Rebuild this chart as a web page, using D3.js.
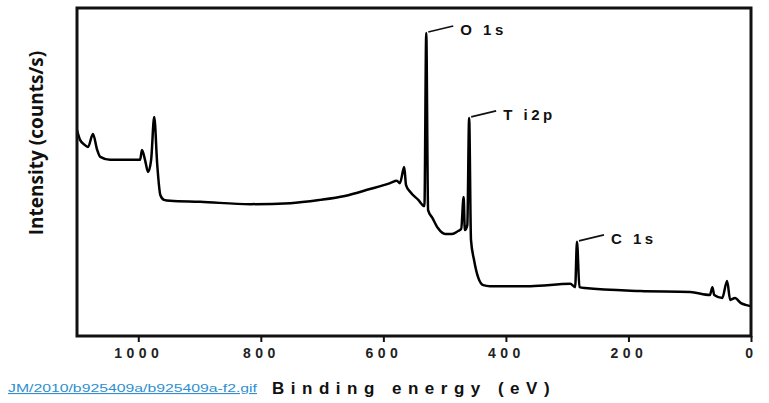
<!DOCTYPE html>
<html>
<head>
<meta charset="utf-8">
<script src="https://cdn.jsdelivr.net/npm/d3@7"></script>
<style>
  html, body { margin: 0; padding: 0; background: #ffffff; }
  svg { display: block; }
</style>
</head>
<body>
<script>
// Binding energy (eV) and intensity (arbitrary units, 0-100)
const bindingEnergy = [1100,1095,1087,1082,1074,1067,1062,1046,1021,997,994,989,984,979,974,969,964,958,948,899,817,752,703,663,622,589,578,573,566,563,556,543,533,530,527,520,511,499,488,478,473,469,467,463,460,457,452,445,437,426,360,295,287,284,280,271,181,99,67,63,60,47,39,34,26,17,9,1];
const intensity = [62.8,59.8,58.2,57.6,61.6,56.7,54.6,53.7,53.7,53.7,56.7,53.7,50.0,53.7,66.8,52.1,43.0,41.5,41.2,40.9,40.2,40.5,41.5,42.7,44.8,46.6,47.3,46.6,51.5,46.0,43.9,41.5,39.6,92.4,38.4,36.0,32.9,31.1,31.1,32.0,32.6,42.4,32.3,33.8,66.5,29.3,23.2,17.7,15.5,15.2,15.2,15.9,14.9,28.7,14.9,14.6,13.7,13.4,12.5,14.9,12.5,11.6,16.8,11.0,11.6,10.1,9.5,9.1];

const peakNames = ["O 1s", "T i2p", "C 1s"];
const peakEnergy = [530, 460, 284];
const peakIntensity = [92.4, 66.5, 28.7];

const xTicks = [1000, 800, 600, 400, 200, 0];
const xLabel = "Binding energy (eV)";
const yLabel = "Intensity (counts/s)";
const linkText = "JM/2010/b925409a/b925409a-f2.gif";

const W = 769, H = 403;
const m = { left: 77, right: 18, top: 8, bottom: 67 };

const svg = d3.select("body").append("svg").attr("width", W).attr("height", H);

const x = d3.scaleLinear().domain([1100, 0]).range([m.left, W - m.right]);
const y = d3.scaleLinear().domain([0, 100]).range([H - m.bottom, m.top]);

// spectrum
const pts = bindingEnergy.map((b, i) => [b, intensity[i]]);
svg.append("path")
  .datum(pts)
  .attr("fill", "none")
  .attr("stroke", "#000")
  .attr("stroke-width", 2.5)
  .attr("stroke-linejoin", "round")
  .attr("d", d3.line().curve(d3.curveMonotoneX).x(d => x(d[0])).y(d => y(d[1])));

// frame
svg.append("rect")
  .attr("x", m.left).attr("y", m.top)
  .attr("width", W - m.right - m.left).attr("height", H - m.bottom - m.top)
  .attr("fill", "none").attr("stroke", "#111").attr("stroke-width", 3);

// x axis
const xAxis = d3.axisBottom(x).tickValues(xTicks).tickSize(6).tickPadding(6).tickFormat(d3.format("d"));
const gx = svg.append("g").attr("transform", `translate(0,${H - m.bottom})`).call(xAxis);
gx.select(".domain").remove();
gx.selectAll(".tick line").attr("stroke", "#111").attr("stroke-width", 2);
gx.selectAll(".tick text")
  .attr("font-family", "Liberation Sans, Arial, sans-serif")
  .attr("font-weight", "bold")
  .attr("font-size", 14)
  .attr("fill", "#222")
  .attr("letter-spacing", "4.5px");

// x label
svg.append("text")
  .attr("x", 272).attr("y", 394)
  .attr("font-family", "Liberation Sans, Arial, sans-serif")
  .attr("font-weight", "bold").attr("font-size", 17)
  .attr("fill", "#111")
  .attr("letter-spacing", "6.5px")
  .text(xLabel);

// y label
svg.append("text")
  .attr("transform", `translate(43,143) rotate(-90)`)
  .attr("text-anchor", "middle")
  .attr("font-family", "Open Sans, sans-serif")
  .attr("font-weight", "bold").attr("font-size", 19)
  .attr("fill", "#111")
  .text(yLabel);

// link text
svg.append("text")
  .attr("x", 8).attr("y", 392)
  .attr("font-family", "Liberation Sans Narrow, Liberation Sans, Arial, sans-serif")
  .attr("font-size", 11)
  .attr("fill", "#2f8fd0")
  .attr("text-decoration", "underline")
  .attr("textLength", 249).attr("lengthAdjust", "spacingAndGlyphs")
  .text(linkText);

// peak labels
peakNames.forEach((name, i) => {
  const px = x(peakEnergy[i]), py = y(peakIntensity[i]);
  svg.append("line")
    .attr("x1", px + 2).attr("y1", py - 1)
    .attr("x2", px + 27).attr("y2", py - 7)
    .attr("stroke", "#111").attr("stroke-width", 1.6);
  svg.append("text")
    .attr("x", px + 34).attr("y", py + 2)
    .attr("font-family", "Liberation Sans, Arial, sans-serif")
    .attr("font-weight", "bold").attr("font-size", 15)
    .attr("fill", "#111")
    .attr("letter-spacing", "3.5px")
    .text(name);
});
</script>
</body>
</html>
